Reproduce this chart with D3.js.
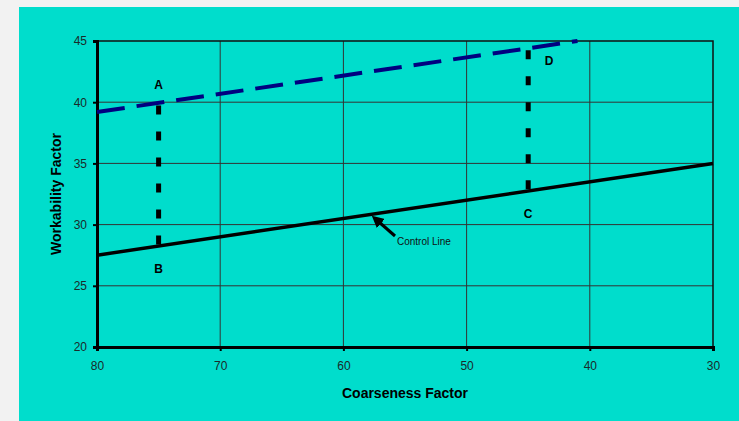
<!DOCTYPE html>
<html>
<head>
<meta charset="utf-8">
<script src="https://cdn.jsdelivr.net/npm/d3@7"></script>
<style>
  body { margin: 0; background: #f2f2f2; }
  svg text { font-family: "Liberation Sans", Arial, sans-serif; }
</style>
</head>
<body>
<svg id="chart" width="739" height="421"></svg>
<script>
// axis ticks
var xTicks = [80, 70, 60, 50, 40, 30];
var yTicks = [20, 25, 30, 35, 40, 45];

// control line (solid) and shifted line (dashed blue)
var controlLine = [{x: 80, y: 27.5}, {x: 30, y: 35}];
var trialLine = [{x: 80, y: 39.2}, {x: 41, y: 45}];

// vertical drops between the two lines
var drops = [
  {x: 75, top: 39.9, bottom: 28.25},
  {x: 45, top: 44.4, bottom: 32.75}
];

var pointLabels = [
  {name: "A", x: 75, y: 41.3},
  {name: "B", x: 75, y: 26.3},
  {name: "C", x: 45, y: 30.8},
  {name: "D", x: 43.3, y: 43.3}
];

var svg = d3.select("#chart");

svg.append("rect")
  .attr("x", 19).attr("y", 7)
  .attr("width", 720).attr("height", 414)
  .attr("fill", "#00ddcc");

var x = d3.scaleLinear().domain([80, 30]).range([97, 713]);
var y = d3.scaleLinear().domain([20, 45]).range([347, 41]);

// grid
svg.append("g").selectAll("line")
  .data(xTicks.slice(1, -1))
  .enter().append("line")
  .attr("x1", function(d){ return x(d); })
  .attr("x2", function(d){ return x(d); })
  .attr("y1", y(20)).attr("y2", y(45))
  .attr("stroke", "#333").attr("stroke-width", 1);

svg.append("g").selectAll("line")
  .data(yTicks.slice(1, -1))
  .enter().append("line")
  .attr("x1", x(80)).attr("x2", x(30))
  .attr("y1", function(d){ return y(d); })
  .attr("y2", function(d){ return y(d); })
  .attr("stroke", "#333").attr("stroke-width", 1);

// frame top/right
svg.append("path")
  .attr("d", "M" + x(80) + "," + y(45) + "H" + x(30) + "V" + y(20))
  .attr("fill", "none").attr("stroke", "#111").attr("stroke-width", 1.5);

// axes
var xAxis = svg.append("g")
  .attr("transform", "translate(0," + y(20) + ")")
  .call(d3.axisBottom(x).tickValues(xTicks).tickSize(4).tickPadding(10));
var yAxis = svg.append("g")
  .attr("transform", "translate(" + x(80) + ",0)")
  .call(d3.axisLeft(y).tickValues(yTicks).tickSize(4).tickPadding(6));

[xAxis, yAxis].forEach(function(a){
  a.select(".domain").attr("stroke", "#000").attr("stroke-width", 3);
  a.selectAll(".tick line").attr("stroke", "#000").attr("stroke-width", 2);
  a.selectAll(".tick text")
    .attr("fill", "#1a2a2a")
    .style("font-size", "12px")
    .style("font-family", "Liberation Sans, Arial, sans-serif");
});

var line = d3.line()
  .x(function(d){ return x(d.x); })
  .y(function(d){ return y(d.y); });

// vertical dashed drops
svg.append("g").selectAll("line")
  .data(drops)
  .enter().append("line")
  .attr("x1", function(d){ return x(d.x); })
  .attr("x2", function(d){ return x(d.x); })
  .attr("y1", function(d){ return y(d.top) + 2; })
  .attr("y2", function(d){ return y(d.bottom); })
  .attr("stroke", "#000")
  .attr("stroke-width", 5)
  .attr("stroke-dasharray", "9,17");

svg.append("path")
  .attr("d", line(controlLine))
  .attr("fill", "none")
  .attr("stroke", "#000")
  .attr("stroke-width", 3.5);

svg.append("path")
  .attr("d", line(trialLine))
  .attr("fill", "none")
  .attr("stroke", "#000080")
  .attr("stroke-width", 4)
  .attr("stroke-dasharray", "28,12");

// point labels
svg.append("g").selectAll("text")
  .data(pointLabels)
  .enter().append("text")
  .attr("x", function(d){ return x(d.x); })
  .attr("y", function(d){ return y(d.y); })
  .attr("text-anchor", "middle")
  .attr("dominant-baseline", "middle")
  .style("font-size", "12px")
  .style("font-weight", "bold")
  .text(function(d){ return d.name; });

// control line annotation
svg.append("defs").append("marker")
  .attr("id", "arr")
  .attr("viewBox", "0 0 10 10")
  .attr("refX", 2).attr("refY", 5)
  .attr("markerWidth", 4).attr("markerHeight", 4)
  .attr("orient", "auto")
  .append("path").attr("d", "M0,0L10,5L0,10z").attr("fill", "#000");

svg.append("line")
  .attr("x1", 395).attr("y1", 236)
  .attr("x2", 379).attr("y2", 222)
  .attr("stroke", "#000").attr("stroke-width", 3)
  .attr("marker-end", "url(#arr)");

svg.append("text")
  .attr("x", 397).attr("y", 245)
  .style("font-size", "10px")
  .attr("fill", "#111")
  .text("Control Line");

// axis titles
svg.append("text")
  .attr("x", 405).attr("y", 398)
  .attr("text-anchor", "middle")
  .style("font-size", "14px")
  .style("font-weight", "bold")
  .text("Coarseness Factor");

svg.append("text")
  .attr("transform", "translate(61,194) rotate(-90)")
  .attr("text-anchor", "middle")
  .style("font-size", "14px")
  .style("font-weight", "bold")
  .text("Workability Factor");
</script>
</body>
</html>
